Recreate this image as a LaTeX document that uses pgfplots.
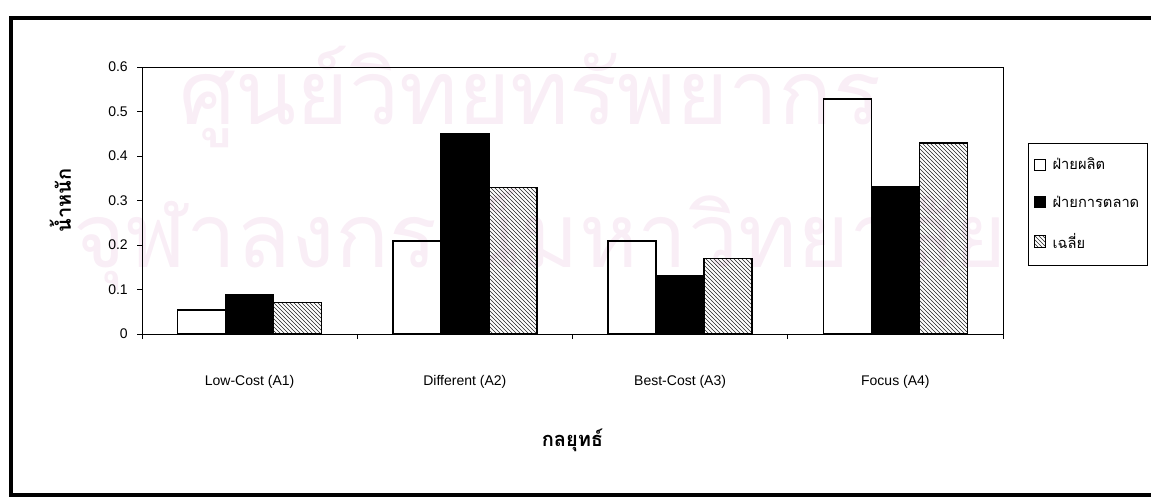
\documentclass[border=0pt]{standalone}
\usepackage{pgfplots}
\pgfplotsset{compat=1.18}
\usetikzlibrary{patterns}
\usepackage{fontspec}
\setmainfont{Liberation Sans}
\newfontfamily\thaifont[Script=Thai]{Loma}
\definecolor{wmark}{RGB}{249,238,246}

\begin{document}
\begin{tikzpicture}
% page: 1151 x 497 px at 0.75pt per px
\begin{scope}[x=0.75pt,y=-0.75pt]
  \useasboundingbox (0,0) rectangle (1151,497);
  \clip (0,0) rectangle (1151,497);
  % faint background watermark
  \node[text=wmark,font=\thaifont\fontsize{67}{72}\selectfont,anchor=center] at (530,97) {ศูนย์วิทยทรัพยากร};
  \node[text=wmark,font=\thaifont\fontsize{67}{72}\selectfont,anchor=center] at (540,240) {จุฬาลงกรณ์มหาวิทยาลัย};
  % outer frame
  \draw[line width=3.4pt] (11,18) rectangle (1170,495);
\end{scope}

\begin{axis}[
  at={(106.5pt,-250.5pt)}, anchor=south west,
  scale only axis, width=645.75pt, height=200.25pt,
  ybar=0pt, bar width=36pt,
  xmin=0.5, xmax=4.5, ymin=0, ymax=0.6,
  xtick={1,2,3,4},
  xticklabels={Low-Cost (A1),Different (A2),Best-Cost (A3),Focus (A4)},
  minor xtick={0.5,1.5,2.5,3.5,4.5},
  ytick={0,0.1,0.2,0.3,0.4,0.5,0.6},
  yticklabel style={/pgf/number format/fixed,/pgf/number format/precision=1,
    anchor=east, inner sep=0pt, xshift=-6.75pt},
  /pgf/number format/assume math mode=true,
  tick label style={font=\fontsize{10.5}{12}\selectfont},
  xticklabel style={anchor=center, yshift=-32.25pt},
  tick align=outside, major tick length=3.75pt, minor tick length=3.75pt,
  major x tick style={draw=none},
  xtick pos=bottom, ytick pos=left,
  axis line style={line width=0.7pt},
  every tick/.style={black, line width=0.6pt},
  xlabel={\thaifont\bfseries กลยุทธ์},
  ylabel={\thaifont\bfseries น้ำหนัก},
  xlabel style={at={(axis description cs:0.5,-0.40)}, anchor=center, font=\fontsize{15}{16}\selectfont},
  ylabel style={at={(axis description cs:-0.095,0.5)}, anchor=center, font=\fontsize{15}{16}\selectfont},
  legend style={at={(axis description cs:1.029,0.715)}, anchor=north west,
    draw=black, line width=0.5pt, fill=white,
    font=\thaifont\fontsize{11}{12}\selectfont,
    inner xsep=4pt, inner ysep=9pt, row sep=14pt,
    /tikz/every odd column/.append style={column sep=3pt}},
  legend cell align=left,
  legend image code/.code={\draw[#1, line width=0.7pt] (0pt,-4pt) rectangle (8.5pt,4.5pt);},
]
\addplot[draw=black, line width=1pt, fill=none] coordinates {(1,0.054) (2,0.209) (3,0.209) (4,0.528)};
\addplot[draw=black, line width=1pt, fill=black] coordinates {(1,0.089) (2,0.450) (3,0.131) (4,0.330)};
\addplot[draw=black, line width=1pt, pattern=north west lines, pattern color=black!85] coordinates {(1,0.071) (2,0.329) (3,0.170) (4,0.429)};
\legend{ฝ่ายผลิต,ฝ่ายการตลาด,เฉลี่ย}
\end{axis}
\end{tikzpicture}
\end{document}
